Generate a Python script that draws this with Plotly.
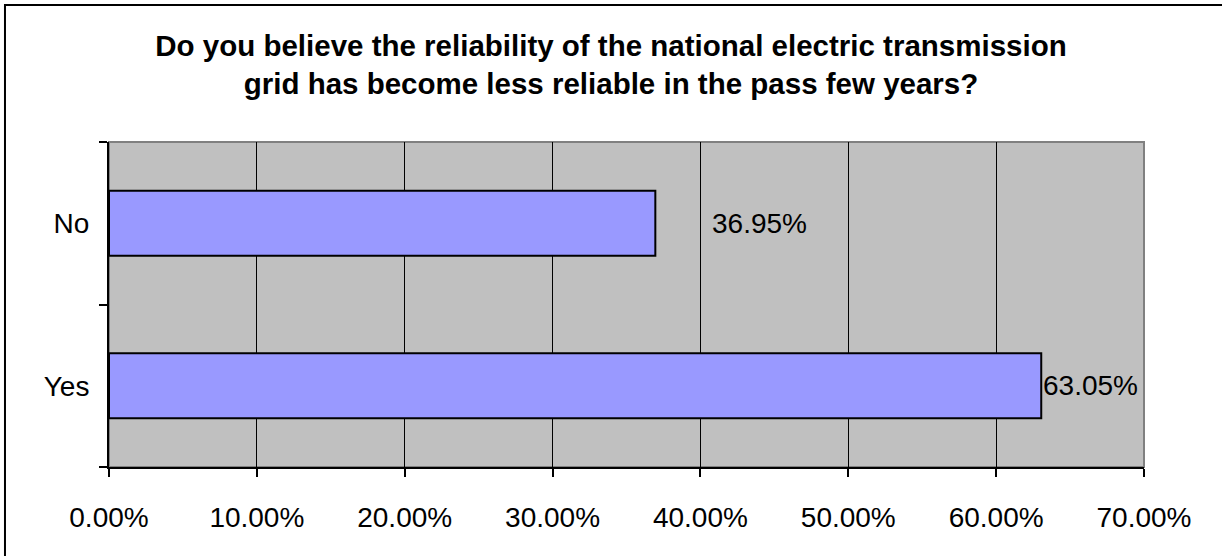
import plotly.graph_objects as go

# survey answers and their shares
answers = ["Yes", "No"]
shares = [0.6305, 0.3695]
share_labels = ["63.05%", "36.95%"]
label_shift = [0, 55]  # pixel offset of each value label from the bar end

x_ticks = [0.0, 0.1, 0.2, 0.3, 0.4, 0.5, 0.6, 0.7]

title = ("<b>Do you believe the reliability of the national electric transmission<br>"
         "grid has become less reliable in the pass few years?</b>")

FONT = "Liberation Sans, Arial, sans-serif"

fig = go.Figure()
fig.add_trace(go.Bar(
    x=shares,
    y=answers,
    orientation="h",
    marker=dict(color="#9999FF", line=dict(color="black", width=2)),
    hoverinfo="skip",
    showlegend=False,
))

for ans, val, lab, shift in zip(answers, shares, share_labels, label_shift):
    fig.add_annotation(
        x=val, y=ans, text=lab, showarrow=False,
        xanchor="left", yanchor="middle", xshift=shift,
        font=dict(family=FONT, size=28, color="black"),
    )

# gray border round the plot area (top and right show gray)
fig.add_shape(type="rect", xref="paper", yref="paper", x0=0, x1=1, y0=0, y1=1,
              line=dict(color="#808080", width=2), layer="below")
# outer frame, only left and top edges are inside the picture
fig.add_shape(type="path", xref="paper", yref="paper",
              path="M -0.1005 -0.3 L -0.1005 1.4215 L 1.09 1.4215",
              line=dict(color="black", width=2))

fig.update_layout(
    width=1222,
    height=556,
    margin=dict(l=109, r=78, t=142, b=89),
    paper_bgcolor="white",
    plot_bgcolor="#C0C0C0",
    bargap=0.6,
    font=dict(family=FONT, size=28, color="black"),
    title=dict(
        text=title, x=0.5, xref="container", xanchor="center",
        y=1 - 56 / 556, yref="container", yanchor="middle",
        font=dict(family=FONT, size=29.5, color="black"),
    ),
    xaxis=dict(
        range=[0, 0.7],
        tickvals=x_ticks,
        tickformat=".2%",
        showgrid=True, gridcolor="black", gridwidth=1,
        showline=True, linecolor="black", linewidth=2,
        ticks="outside", ticklen=8, tickwidth=2, tickcolor="black",
        ticklabelstandoff=16,
        zeroline=False,
        fixedrange=True,
    ),
    yaxis=dict(
        categoryorder="array", categoryarray=answers,
        showgrid=False,
        showline=True, linecolor="black", linewidth=2,
        ticks="outside", ticklen=8, tickwidth=2, tickcolor="black",
        tickson="boundaries",
        ticklabelstandoff=12,
        fixedrange=True,
    ),
)

fig.write_html("out.html", config={"displayModeBar": False},
               post_script="document.body.style.margin = '0';")
